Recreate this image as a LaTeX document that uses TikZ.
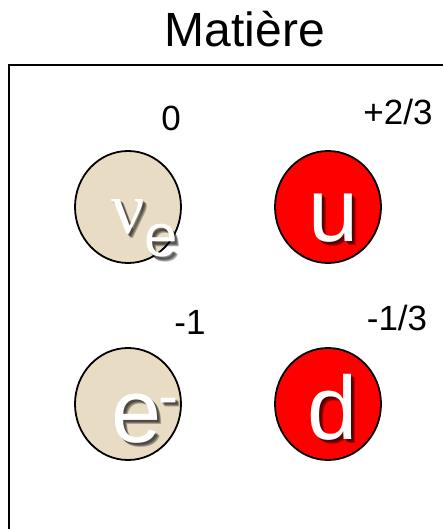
\documentclass[tikz,border=0pt]{standalone}
\usepackage{fontspec}
\setmainfont{Liberation Sans}
\newfontfamily\grecfont{Liberation Serif}
\usetikzlibrary{shapes.geometric,positioning}
\definecolor{sable}{RGB}{233,220,196}
\tikzset{
  particule/.style={ellipse, draw, line width=1.8pt, minimum width=106pt, minimum height=112pt, inner sep=0pt},
  lettre/.style={text=white, font=\fontsize{90}{90}\selectfont, inner sep=0pt, anchor=base},
  charge/.style={font=\fontsize{35}{35}\selectfont, inner sep=0pt},
  cadre/.style={line width=2pt}
}
% lettre blanche avec ombre portee
\newcommand{\lettre}[4][]{%
  \foreach \s in {4,3,2} {\node[lettre, #1, text=black, opacity=.3] at ([shift={(\s,\s)}]#3) {#4};}
  \node[lettre, #1] (#2) at (#3) {#4};}
\begin{document}
\begin{tikzpicture}[x=1pt,y=-1pt]
\useasboundingbox (0,0) rectangle (442,529);
\node[font=\fontsize{48}{48}\selectfont, anchor=base] (titre) at (245,47) {Matière};
\draw[cadre] (9,530) -- (9,65) -- (443,65);
\foreach \nom/\x/\y/\couleur in {nu/128/207/sable, u/328/207/red, el/128/404/sable, d/328/404/red}
    \node[particule, fill=\couleur] (\nom) at (\x,\y) {};
\lettre[font=\fontsize{60}{60}\selectfont, anchor=base west]{lnu}{111,233}{{\grecfont\fontsize{74}{74}\selectfont ν}\raisebox{-24pt}{e}}
\lettre{lu}{334,241}{u}
\lettre[anchor=base west]{lel}{111,442}{e\kern-3pt\raisebox{26pt}{\fontsize{60}{60}\selectfont -}}
\lettre{ld}{333,439}{d}
\node[charge] (qnu) at (171,118) {0};
\node[charge] (qu) at (398,112) {+2/3};
\node[charge] (qel) at (190,322) {-1};
\node[charge] (qd) at (397,318) {-1/3};
\end{tikzpicture}
\end{document}
